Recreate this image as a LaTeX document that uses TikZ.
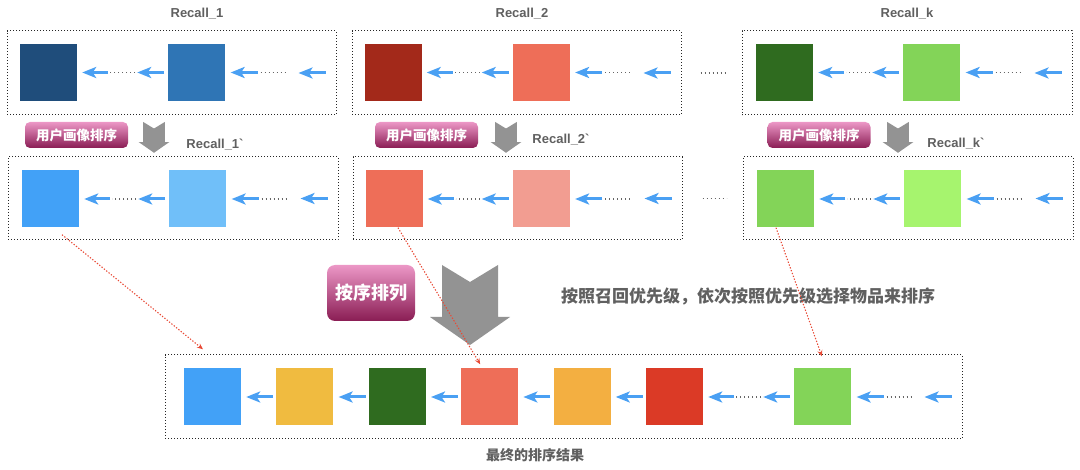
\documentclass[tikz,border=0pt]{standalone}
\usepackage{fontspec}
\setmainfont{Liberation Sans}
\newfontfamily\cjk{Noto Sans CJK SC}
\usepackage{xcolor}
\usetikzlibrary{arrows.meta, positioning, calc}

\definecolor{navyitem}{HTML}{1F4D7B}
\definecolor{blueitem}{HTML}{2F75B5}
\definecolor{maroonitem}{HTML}{A3291A}
\definecolor{salmonitem}{HTML}{EE6E58}
\definecolor{forestitem}{HTML}{2F6B1F}
\definecolor{greenitem}{HTML}{83D458}
\definecolor{skyitem}{HTML}{42A1F7}
\definecolor{paleitem}{HTML}{70BFF9}
\definecolor{pinkitem}{HTML}{F29D91}
\definecolor{limeitem}{HTML}{A6F46E}
\definecolor{yellowitem}{HTML}{F0BB40}
\definecolor{orangeitem}{HTML}{F3AF41}
\definecolor{reditem}{HTML}{DB3A26}
\definecolor{arrowblue}{HTML}{4AA0F3}
\definecolor{gapgray}{HTML}{666666}
\definecolor{blockgray}{HTML}{939393}
\definecolor{labelgray}{HTML}{606060}
\definecolor{badgetop}{HTML}{EC97C6}
\definecolor{badgebot}{HTML}{8A1D54}
\definecolor{pickred}{HTML}{E84A36}

% arrow, dots, arrow between two items
\newcommand{\dotlink}[2]{%
  \draw[gap] ([xshift=-33pt]#2.west) -- ([xshift=33pt]#1.east);
  \draw[link] ([xshift=-4pt]#2.west) -- ([xshift=-31pt]#2.west);
  \draw[link] ([xshift=31pt]#1.east) -- ([xshift=5pt]#1.east);}
% plain arrow between two items
\newcommand{\plainlink}[2]{%
  \draw[link] ([xshift=-3pt]#2.west) -- ([xshift=5pt]#1.east);}
% incoming arrows at the right end of a group
\newcommand{\taillink}[2]{%
  \draw[gap] ([xshift=35pt]#1.east) -- ([xshift=62pt]#1.east);
  \draw[link] ([xshift=32pt]#1.east) -- ([xshift=5pt]#1.east);
  \draw[link] ([xshift=-11pt]#2.east) -- ([xshift=-38pt]#2.east);}

\begin{document}
\begin{tikzpicture}[
    x=1pt, y=-1pt,
    item/.style={rectangle, minimum size=57pt, inner sep=0pt},
    group/.style={rectangle, draw=black!85, line width=1pt, dash pattern=on 1.3pt off 1.7pt, minimum height=84pt, inner sep=0pt},
    badge/.style={rectangle, rounded corners=5pt, top color=badgetop, bottom color=badgebot, text=white, font=\cjk\bfseries\fontsize{13.5}{14}\selectfont, minimum width=103pt, minimum height=26pt, inner sep=0pt},
    recall/.style={font=\bfseries\fontsize{13}{14}\selectfont, text=labelgray},
    note/.style={font=\cjk\bfseries, text=labelgray},
    link/.style={-{Stealth[length=14pt, width=11pt, inset=3.5pt]}, line width=3pt, arrowblue},
    gap/.style={line width=1.2pt, dash pattern=on 1.2pt off 2.8pt, gapgray},
    pick/.style={-{Stealth[length=6pt, width=5pt]}, pickred, line width=1.1pt, dash pattern=on 1.3pt off 1.7pt},
    pics/blockdown/.style={code={
        \fill[blockgray] (-28,0) -- (0,17) -- (28,0) -- (28,52) -- (40,52) -- (0,80) -- (-40,52) -- (-28,52) -- cycle;}},
]
    \useasboundingbox (0,0) rectangle (1080,470);

    % Recall groups
    \node[group, minimum width=329pt] (g11) at (171.5,73) {};
    \node[group, minimum width=329pt] (g12) at (516.5,73) {};
    \node[group, minimum width=330pt] (g1k) at (907,73) {};
    \node[recall] at (197,14) {Recall\_1};
    \node[recall] at (522,14) {Recall\_2};
    \node[recall] at (907,14) {Recall\_k};

    \node[item, fill=navyitem] (a1) at (48.5,72.5) {};
    \node[item, fill=blueitem, right=91pt of a1] (a2) {};
    \node[item, fill=maroonitem] (b1) at (393,72.5) {};
    \node[item, fill=salmonitem, right=91pt of b1] (b2) {};
    \node[item, fill=forestitem] (k1) at (784.5,72.5) {};
    \node[item, fill=greenitem, right=90pt of k1] (k2) {};

    \dotlink{a1}{a2} \taillink{a2}{g11}
    \dotlink{b1}{b2} \taillink{b2}{g12}
    \dotlink{k1}{k2} \taillink{k2}{g1k}
    \draw[gap] ([xshift=19pt]g12.east) -- ([xshift=-16pt]g1k.west);

    % re-ranked groups
    \node[group, minimum width=330pt, minimum height=83pt] (g21) at (173,198.5) {};
    \node[group, minimum width=329pt, minimum height=83pt] (g22) at (517.5,198.5) {};
    \node[group, minimum width=330pt, minimum height=83pt] (g2k) at (908,198.5) {};
    \node[recall] at (215,145) {Recall\_1\textasciigrave};
    \node[recall] at (561,140) {Recall\_2\textasciigrave};
    \node[recall] at (956,144) {Recall\_k\textasciigrave};

    \node[item, fill=skyitem] (c1) at (50.5,199) {};
    \node[item, fill=paleitem, right=90pt of c1] (c2) {};
    \node[item, fill=salmonitem] (d1) at (394,199) {};
    \node[item, fill=pinkitem, right=90pt of d1] (d2) {};
    \node[item, fill=greenitem] (m1) at (785.5,199) {};
    \node[item, fill=limeitem, right=90pt of m1] (m2) {};

    \dotlink{c1}{c2} \taillink{c2}{g21}
    \dotlink{d1}{d2} \taillink{d2}{g22}
    \dotlink{m1}{m2} \taillink{m2}{g2k}
    \draw[gap] ([xshift=20pt]g22.east) -- ([xshift=-16pt]g2k.west);

    % user profile ranking
    \node[badge] (u1) at (76.5,135) {用户画像排序};
    \node[badge] (u2) at (426.5,135) {用户画像排序};
    \node[badge] (uk) at (819,135) {用户画像排序};
    \pic[scale=0.385] at (154,122) {blockdown};
    \pic[scale=0.385] at (506,122) {blockdown};
    \pic[scale=0.385] at (898,122) {blockdown};

    % merge step
    \pic at (470,265) {blockdown};
    \node[badge, rounded corners=8pt, minimum width=88pt, minimum height=56pt, font=\cjk\bfseries\fontsize{18}{20}\selectfont] (merge) at (371,293) {按序排列};
    \node[note, font=\cjk\bfseries\fontsize{17}{19}\selectfont] (rule) at (748,296) {按照召回优先级，依次按照优先级选择物品来排序};

    % final list
    \node[group, minimum width=797pt] (fin) at (563.5,397) {};
    \node[item, fill=skyitem] (f1) at (212.5,397) {};
    \node[item, fill=yellowitem, right=35pt of f1] (f2) {};
    \node[item, fill=forestitem, right=35pt of f2] (f3) {};
    \node[item, fill=salmonitem, right=35pt of f3] (f4) {};
    \node[item, fill=orangeitem, right=35pt of f4] (f5) {};
    \node[item, fill=reditem, right=35pt of f5] (f6) {};
    \node[item, fill=greenitem, right=91pt of f6] (f7) {};
    \plainlink{f1}{f2} \plainlink{f2}{f3} \plainlink{f3}{f4}
    \plainlink{f4}{f5} \plainlink{f5}{f6}
    \dotlink{f6}{f7} \taillink{f7}{fin}
    \node[note, font=\cjk\bfseries\fontsize{14}{16}\selectfont] (result) at (535,455) {最终的排序结果};

    % picked items
    \draw[pick] ($(c1.south)+(11.5,7)$) -- ($(f1.north)+(-9.5,-19)$);
    \draw[pick] ($(d1.south)+(4,0)$) -- ($(f4.north)+(-9.5,-4)$);
    \draw[pick] ($(m1.south)+(-9.5,0)$) -- ($(f7.north)+(-1,-12)$);
\end{tikzpicture}
\end{document}
